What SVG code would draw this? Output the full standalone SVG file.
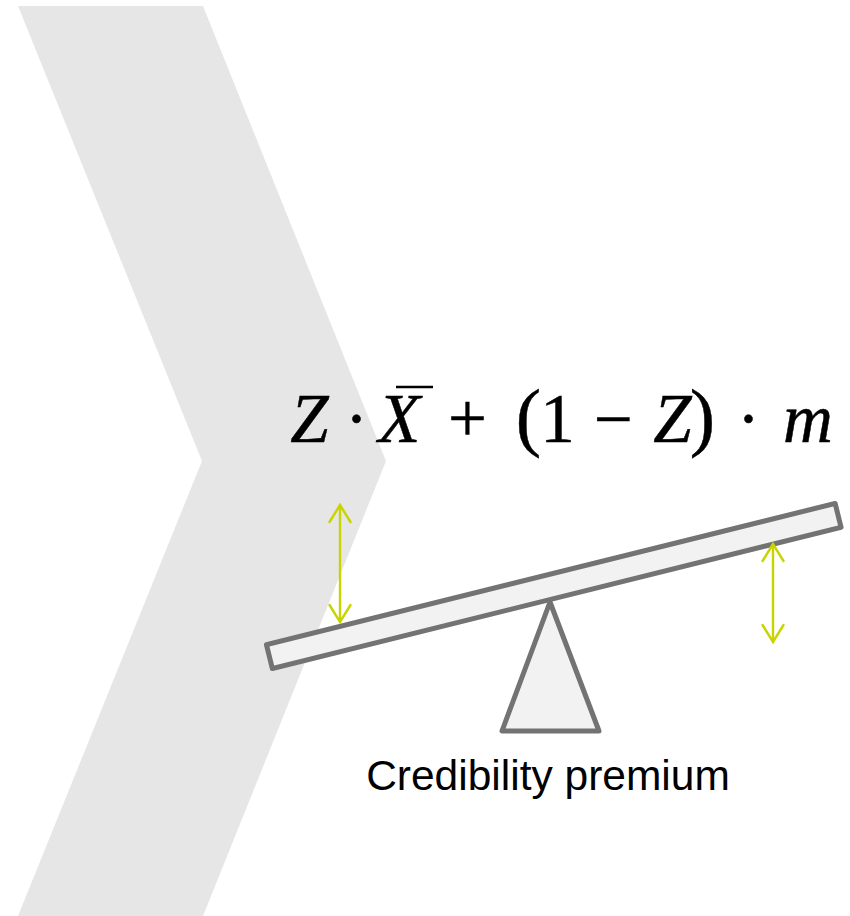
<svg xmlns="http://www.w3.org/2000/svg" width="850" height="916" viewBox="0 0 850 916">
  <defs>
    <style>
      .bg { fill: #e6e6e6; }
      .shape { fill: #f2f2f2; stroke: #737373; stroke-width: 5; stroke-linejoin: round; }
      .arrow { fill: none; stroke: #c8d400; stroke-width: 2.4; stroke-linecap: round; stroke-linejoin: miter; }
      .math { font-family: 'Liberation Serif', 'Times New Roman', serif; font-size: 69px; fill: #000; stroke: #000; stroke-width: 0.5; }
      .it { font-style: italic; }
      .label { font-family: 'Liberation Sans', Arial, sans-serif; font-size: 42.5px; fill: #000; }
    </style>
  </defs>
  <g id="chevron">
    <polygon class="bg" points="18,6 203,6 386,461 203,916 18,916 202,461"/>
  </g>
  <g id="formula">
    <text class="math" font-family="Liberation Serif, serif" y="442" text-anchor="middle">
      <tspan class="it" x="318">Z</tspan>
      <tspan x="365">·</tspan>
      <tspan class="it" x="408">X</tspan>
      <tspan x="476">+</tspan>
      <tspan x="537" font-size="76">(</tspan>
      <tspan x="566">1</tspan>
      <tspan x="622">−</tspan>
      <tspan class="it" x="681">Z</tspan>
      <tspan x="711" font-size="76">)</tspan>
      <tspan x="757">·</tspan>
      <tspan class="it" x="808">m</tspan>
    </text>
    <line x1="396" y1="387" x2="433" y2="387" stroke="#000" stroke-width="2.6"/>
  </g>
  <g id="fulcrum">
    <polygon class="shape" points="550,602 502,731 599,731"/>
  </g>
  <g id="plank">
    <rect class="shape" x="-293" y="-12.3" width="586" height="24.6" transform="translate(553.75,586) rotate(-13.95)"/>
  </g>
  <g id="connectors">
    <g id="arrow-left">
      <line class="arrow" x1="340" y1="505" x2="340" y2="622"/>
      <polyline class="arrow" points="329.5,522 340,505 350.5,522"/>
      <polyline class="arrow" points="329.5,605 340,622 350.5,605"/>
    </g>
    <g id="arrow-right">
      <line class="arrow" x1="773" y1="544" x2="773" y2="642"/>
      <polyline class="arrow" points="762.5,561 773,544 783.5,561"/>
      <polyline class="arrow" points="762.5,625 773,642 783.5,625"/>
    </g>
  </g>
  <g id="caption">
    <text class="label" x="548" y="790" text-anchor="middle">Credibility premium</text>
  </g>
</svg>
